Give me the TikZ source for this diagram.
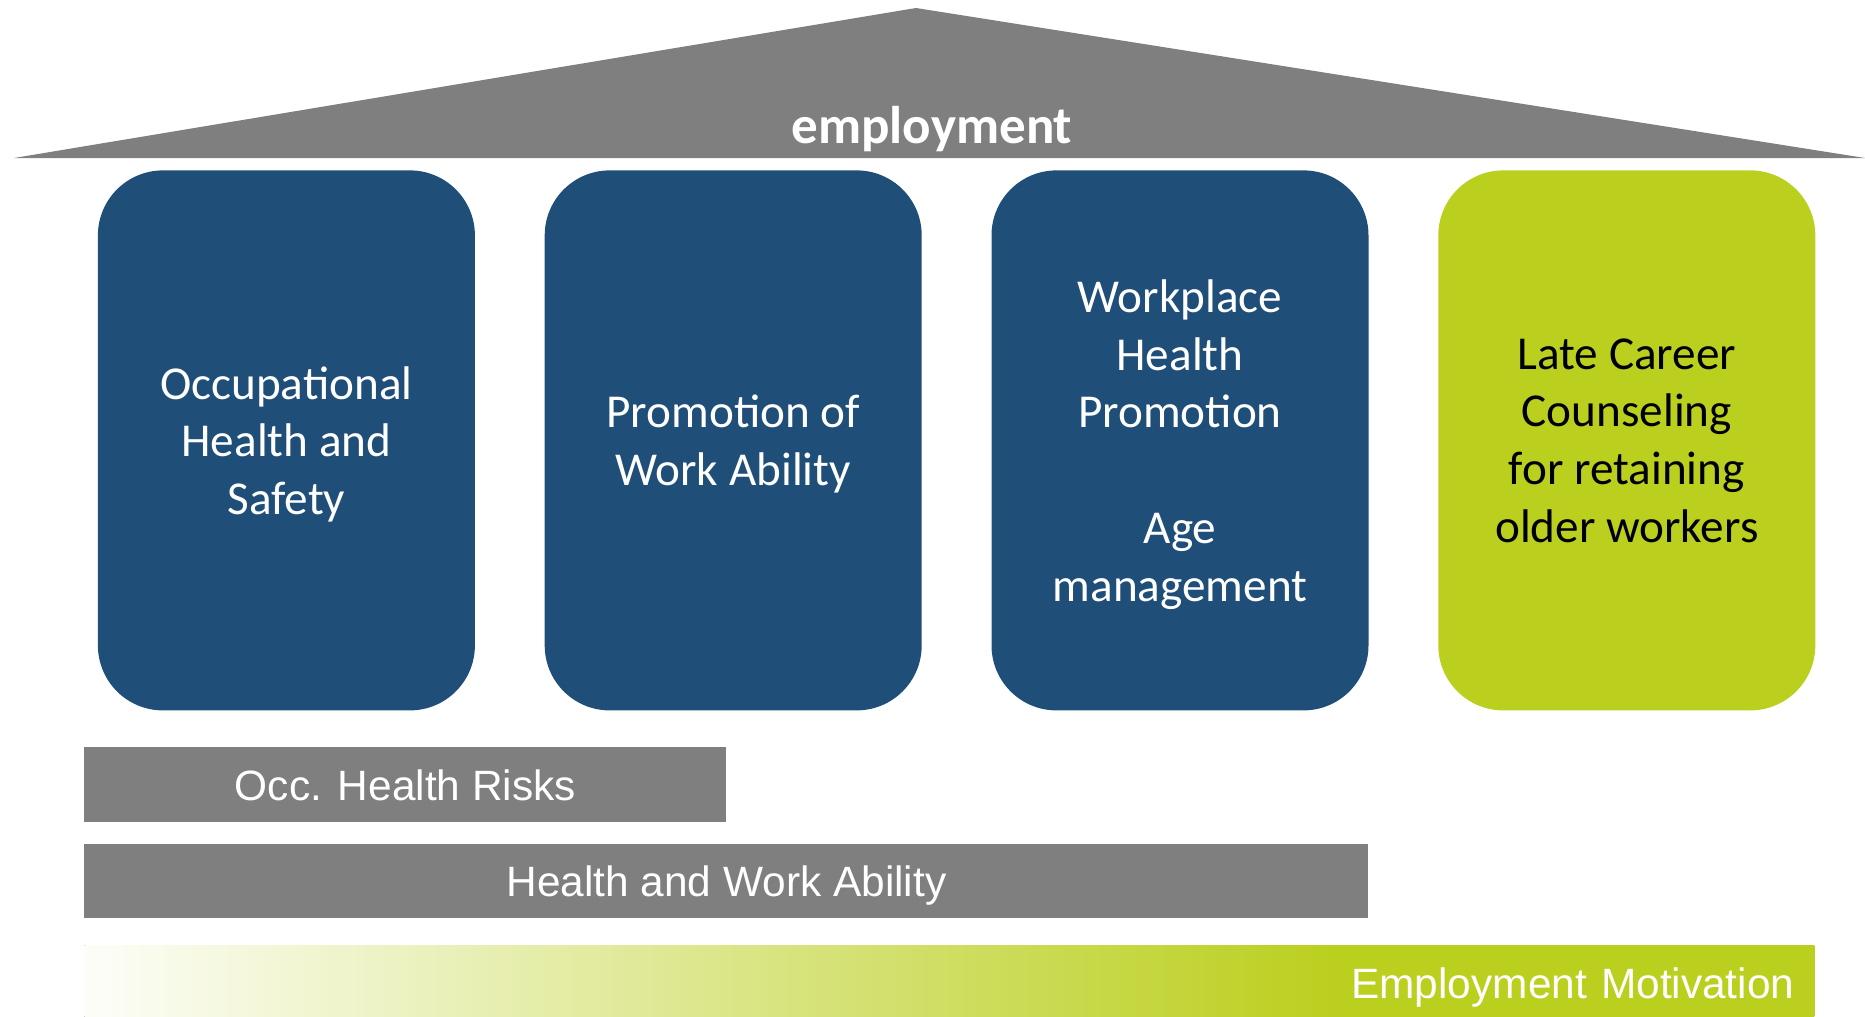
\documentclass[tikz,border=0pt]{standalone}
\usepackage{fontspec}
\setmainfont{Carlito}
\newfontfamily\arialfont{Liberation Sans}
\definecolor{pillarblue}{RGB}{31,78,121}
\definecolor{careergreen}{RGB}{187,207,30}
\definecolor{roofgray}{RGB}{127,127,127}
\usetikzlibrary{positioning}
\pgfdeclarehorizontalshading{motivfade}{100bp}{color(0bp)=(careergreen!3!white); color(25bp)=(careergreen!3!white);
  color(61.25bp)=(careergreen); color(100bp)=(careergreen)}

\begin{document}
\begin{tikzpicture}[x=0.5pt,y=-0.5pt,
          pillar/.style={rectangle,rounded corners=32.5pt,fill=pillarblue,text=white,
                         minimum width=188.5pt,minimum height=270pt,inner sep=0pt,align=center,
                         text depth=0pt,font=\fontsize{23.6}{28.85}\selectfont},
          greybar/.style={rectangle,fill=roofgray,text=white,inner sep=0pt,
                          text height=15.3pt,text depth=0pt,
                          font=\arialfont\fontsize{21.2}{25}\selectfont}]
        \useasboundingbox (0,0) rectangle (1865,1017);
        % roof
        \fill[roofgray] (14,158) -- (916,8) -- (1865,158) -- cycle;
        \node[text=white,font=\bfseries\fontsize{26.5}{30}\selectfont] (roof) at (932,129) {employment};
        % pillars
        \node[pillar,anchor=north west] (ohs) at (97.5,170) {Occupational\\Health and\\Safety};
        \node[pillar,right=34.5pt of ohs] (wab) {Promotion of\\Work Ability};
        \node[pillar,right=34.5pt of wab] (whp) {Workplace\\Health\\Promotion\\[28.85pt]Age\\management};
        \node[pillar,right=34.5pt of whp,fill=careergreen,text=black] (lcc) {Late Career\\Counseling\\for retaining\\older workers};
        % foundation
        \node[greybar,anchor=north west,minimum width=321pt,minimum height=37.5pt] (risks) at (84,747) {Occ. Health Risks};
        \node[greybar,anchor=north west,minimum width=642pt,minimum height=37pt] (ability) at (84,844) {Health and Work Ability};
        \node[greybar,anchor=north west,shading=motivfade,minimum width=865pt,minimum height=37.5pt,
              text width=845pt,inner xsep=10pt,align=right] (motiv) at (84,945) {Employment Motivation};
\end{tikzpicture}
\end{document}
